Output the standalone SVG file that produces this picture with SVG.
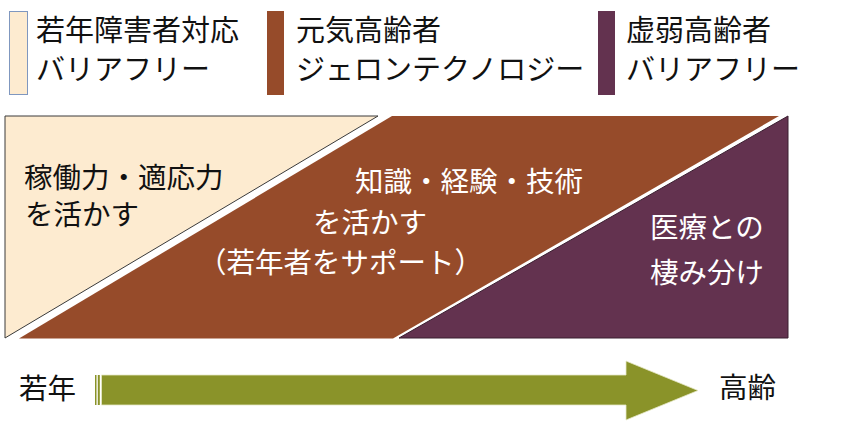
<svg xmlns="http://www.w3.org/2000/svg" width="843" height="433" viewBox="0 0 843 433">
<style>
text{font-family:"Noto Sans CJK JP","Noto Sans",sans-serif;font-size:28.5px}
.dk{fill:#111}
.wh{fill:#fff}
.lg{font-size:29px}
</style>
<rect width="843" height="433" fill="#fff"/>
<g id="legend-young">
<rect x="9.5" y="11.5" width="18" height="83" fill="#FDEBD0" stroke="#7F97BF" stroke-width="1"/>
<text class="dk lg" x="36" y="41">若年障害者対応</text>
<text class="dk lg" x="36" y="80">バリアフリー</text>
</g>
<g id="legend-active">
<rect x="267" y="11" width="17" height="84" fill="#964B2A"/>
<text class="dk lg" x="296" y="41">元気高齢者</text>
<text class="dk lg" x="296" y="80">ジェロンテクノロジー</text>
</g>
<g id="legend-frail">
<rect x="598" y="11" width="17" height="84" fill="#63324F"/>
<text class="dk lg" x="626" y="41">虚弱高齢者</text>
<text class="dk lg" x="626" y="80">バリアフリー</text>
</g>
<g id="region-young">
<polygon points="5,116 378,116 5,338" fill="#FDEBD0" stroke="#3a3a3a" stroke-width="1"/>
<text class="dk" x="24" y="188">稼働力・適応力</text>
<text class="dk" x="25" y="225">を活かす</text>
</g>
<g id="region-active">
<polygon points="392,116 779,116 393,338.5 19,338.5" fill="#964B2A"/>
<text class="wh" x="355" y="192">知識・経験・技術</text>
<text class="wh" x="313" y="233">を活かす</text>
<text class="wh" x="198" y="273">（若年者をサポート）</text>
</g>
<g id="region-frail">
<polygon points="788,116 788,338 399,338" fill="#63324F" stroke="#3a1e30" stroke-width="1"/>
<text class="wh" x="650" y="238">医療との</text>
<text class="wh" x="650" y="283">棲み分け</text>
</g>
<g id="connectors">
<rect x="95" y="375" width="1.5" height="30" fill="#8A9329"/>
<rect x="97.8" y="375" width="2" height="30" fill="#8A9329"/>
<path d="M101.5,375 H626 V361 L698,390.5 L626,420 V405 H101.5 Z" fill="#8A9329" stroke="#E6E8C6" stroke-width="0.8"/>
</g>
<g id="axis-labels">
<text class="dk" x="19" y="399">若年</text>
<text class="dk" x="719" y="398">高齢</text>
</g>
</svg>
